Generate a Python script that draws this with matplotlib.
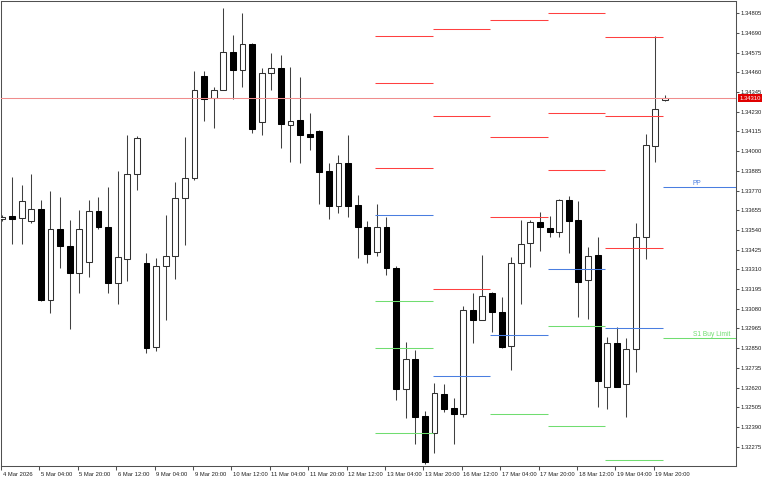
import numpy as np
import matplotlib.pyplot as plt
from matplotlib import transforms

# GBPUSD-style H4 candles, 4 Mar 12:00 .. 20 Mar 00:00
opens = [1.33604, 1.33622, 1.33610, 1.33592, 1.33663, 1.33131, 1.33546, 1.33447, 1.33289, 1.33353,
         1.33651, 1.33557, 1.33230, 1.33371, 1.33867, 1.33347, 1.32857, 1.33330, 1.33388, 1.33727,
         1.33843, 1.34439, 1.34310, 1.34357, 1.34579, 1.34474, 1.34626, 1.34170, 1.34456, 1.34486,
         1.34153, 1.34182, 1.34100, 1.34118, 1.33884, 1.33680, 1.33931, 1.33686, 1.33557, 1.33411,
         1.33557, 1.33318, 1.32612, 1.32787, 1.32454, 1.32355, 1.32582, 1.32501, 1.32466, 1.33073,
         1.33014, 1.33172, 1.33061, 1.32863, 1.33347, 1.33464, 1.33587, 1.33552, 1.33528, 1.33715,
         1.33598, 1.33248, 1.33394, 1.32623, 1.32880, 1.32641, 1.32845, 1.33499, 1.34030, 1.34299]
highs = [1.33627, 1.33849, 1.33803, 1.33867, 1.33715, 1.33768, 1.33733, 1.33598, 1.33657, 1.33715,
         1.33733, 1.33791, 1.33884, 1.34095, 1.34089, 1.33406, 1.33376, 1.33627, 1.33820, 1.34083,
         1.34468, 1.34468, 1.34375, 1.34836, 1.34678, 1.34807, 1.34632, 1.34486, 1.34573, 1.34562,
         1.34492, 1.34433, 1.34223, 1.34124, 1.33931, 1.33978, 1.34095, 1.33744, 1.33592, 1.33692,
         1.33616, 1.33330, 1.32886, 1.32839, 1.32483, 1.32647, 1.32641, 1.32559, 1.33096, 1.33172,
         1.33394, 1.33178, 1.33149, 1.33382, 1.33598, 1.33598, 1.33645, 1.33622, 1.33721, 1.33738,
         1.33709, 1.33441, 1.33499, 1.32915, 1.32974, 1.32909, 1.33581, 1.34100, 1.34672, 1.34328]
lows = [1.33592, 1.33458, 1.33458, 1.33581, 1.33125, 1.33055, 1.33318, 1.32962, 1.33172, 1.33266,
        1.33546, 1.33172, 1.33108, 1.33242, 1.33773, 1.32822, 1.32833, 1.33014, 1.33254, 1.33452,
        1.33832, 1.34176, 1.34135, 1.34357, 1.34305, 1.34375, 1.34106, 1.34095, 1.34357, 1.34019,
        1.33937, 1.33931, 1.34007, 1.33692, 1.33604, 1.33639, 1.33616, 1.33376, 1.33347, 1.33388,
        1.33277, 1.32547, 1.32442, 1.32291, 1.32174, 1.32238, 1.32477, 1.32291, 1.32448, 1.32880,
        1.33014, 1.32944, 1.32851, 1.32723, 1.33108, 1.33324, 1.33417, 1.33499, 1.33499, 1.33406,
        1.33032, 1.33020, 1.32507, 1.32495, 1.32623, 1.32448, 1.32711, 1.33371, 1.33937, 1.34293]
closes = [1.33616, 1.33604, 1.33709, 1.33663, 1.33131, 1.33546, 1.33447, 1.33289, 1.33546, 1.33651,
          1.33557, 1.33230, 1.33382, 1.33867, 1.34077, 1.32851, 1.33330, 1.33388, 1.33727, 1.33843,
          1.34357, 1.34305, 1.34357, 1.34579, 1.34474, 1.34626, 1.34130, 1.34456, 1.34486, 1.34159,
          1.34176, 1.34095, 1.34083, 1.33879, 1.33680, 1.33931, 1.33680, 1.33557, 1.33400, 1.33557,
          1.33318, 1.32612, 1.32787, 1.32448, 1.32185, 1.32588, 1.32495, 1.32466, 1.33073, 1.33014,
          1.33155, 1.33061, 1.32857, 1.33347, 1.33458, 1.33587, 1.33557, 1.33528, 1.33715, 1.33592,
          1.33236, 1.33388, 1.32658, 1.32880, 1.32623, 1.32845, 1.33499, 1.34036, 1.34246, 1.34310]

time_labels = ['4 Mar 2026', '5 Mar 04:00', '5 Mar 20:00', '6 Mar 12:00', '9 Mar 04:00',
               '9 Mar 20:00', '10 Mar 12:00', '11 Mar 04:00', '11 Mar 20:00', '12 Mar 12:00',
               '13 Mar 04:00', '13 Mar 20:00', '16 Mar 12:00', '17 Mar 04:00', '17 Mar 20:00',
               '18 Mar 12:00', '19 Mar 04:00', '19 Mar 20:00']

price_ticks = [1.34805, 1.34690, 1.34575, 1.34460, 1.34345, 1.34230, 1.34115, 1.34000,
               1.33885, 1.33770, 1.33655, 1.33540, 1.33425, 1.33310, 1.33195, 1.33080,
               1.32965, 1.32850, 1.32735, 1.32620, 1.32505, 1.32390, 1.32275]

current_price = 1.34310

# daily pivots (first bar of each day), None = off screen
pivot_day_start = [39, 45, 51, 57, 63, 69]
pivot_r3 = [1.34672, 1.34713, 1.34766, 1.34805, 1.34665, None]
pivot_r2 = [1.34400, 1.34204, 1.34081, 1.34221, 1.34204, None]
pivot_r1 = [1.33900, 1.33197, 1.33618, 1.33890, 1.33433, None]
pivot_pp = [1.33626, 1.32686, 1.32927, 1.33310, 1.32970, 1.33789]
pivot_s1 = [1.33125, None, 1.32464, 1.32978, 1.32199, 1.32908]
pivot_s2 = [1.32849, None, None, 1.32394, None, None]
pivot_s3 = [1.32353, None, None, None, None, None]

RED = '#ff4040'
BLUE = '#4a7ee0'
GREEN = '#70dd70'
LW = 0.75

fig = plt.figure(figsize=(7.68, 4.8), dpi=100)
ax = fig.add_axes([1 / 768, 14 / 480, 735 / 768, 465 / 480])

x_max = 76.41
ax.set_xlim(-0.156, x_max)
ax.set_ylim(1.321621, 1.348768)

o = np.array(opens)
h = np.array(highs)
l = np.array(lows)
c = np.array(closes)
idx = np.arange(len(o))
up = c >= o

ax.vlines(idx, l, h, color='#404040', lw=LW, zorder=2)
body_lo = np.minimum(o, c)
body_h = np.maximum(np.abs(c - o), 0.00004)
ax.bar(idx[up], body_h[up], bottom=body_lo[up], width=0.62, facecolor='white',
       edgecolor='#303030', linewidth=LW, zorder=3)
ax.bar(idx[~up], body_h[~up], bottom=body_lo[~up], width=0.62, facecolor='black',
       edgecolor='black', linewidth=LW, zorder=3)

# pivot segments
levels = [(pivot_r3, RED), (pivot_r2, RED), (pivot_r1, RED), (pivot_pp, BLUE),
          (pivot_s1, GREEN), (pivot_s2, GREEN), (pivot_s3, GREEN)]
for k, start in enumerate(pivot_day_start):
    x0 = start - 0.2
    x1 = start + 5.8 if k < len(pivot_day_start) - 1 else x_max
    for vals, col in levels:
        if vals[k] is not None:
            ax.hlines(vals[k], x0, x1, color=col, lw=LW, zorder=4)

lab_font = ['Liberation Sans', 'DejaVu Sans']
ax.text(71.9, pivot_pp[-1] + 0.00003, 'PP', color=BLUE, fontsize=4.8, family=lab_font,
        ha='left', va='bottom', zorder=5)
ax.text(71.9, pivot_s1[-1] + 0.00003, 'S1 Buy Limit', color=GREEN, fontsize=4.8, family=lab_font,
        ha='left', va='bottom', zorder=5)

# current price line
ax.axhline(current_price, color='#f08c8c', lw=LW, zorder=4)

# axes styling
axis_font = ['Liberation Sans', 'DejaVu Sans']
for s in ax.spines.values():
    s.set_color('#505050')
    s.set_linewidth(LW)

ax.yaxis.tick_right()
ax.set_yticks(price_ticks)
ax.set_yticklabels(['%.5f' % v for v in price_ticks])
ax.tick_params(axis='y', direction='out', length=2.5, width=LW, color='#505050',
               pad=1, labelsize=4.2, labelcolor='#202020')

ax.set_xticks([4 * i - 0.15 for i in range(len(time_labels))])
ax.set_xticklabels(time_labels)
ax.tick_params(axis='x', direction='out', length=3, width=LW, color='#505050',
               pad=1, labelsize=4.2, labelcolor='#202020')
shift = transforms.ScaledTranslation(1.5 / 100, 0, fig.dpi_scale_trans)
for lbl in ax.get_xticklabels():
    lbl.set_ha('left')
    lbl.set_family(axis_font)
    lbl.set_transform(lbl.get_transform() + shift)
for lbl in ax.get_yticklabels():
    lbl.set_family(axis_font)

trans = transforms.blended_transform_factory(ax.transAxes, ax.transData)
ax.text(1.0045, current_price, '%.5f' % current_price, transform=trans, color='white',
        fontsize=4.2, family=axis_font, ha='left', va='center', zorder=6,
        bbox=dict(facecolor='#e00000', edgecolor='none', pad=1.0))

fig.savefig('out.png', dpi=100)
